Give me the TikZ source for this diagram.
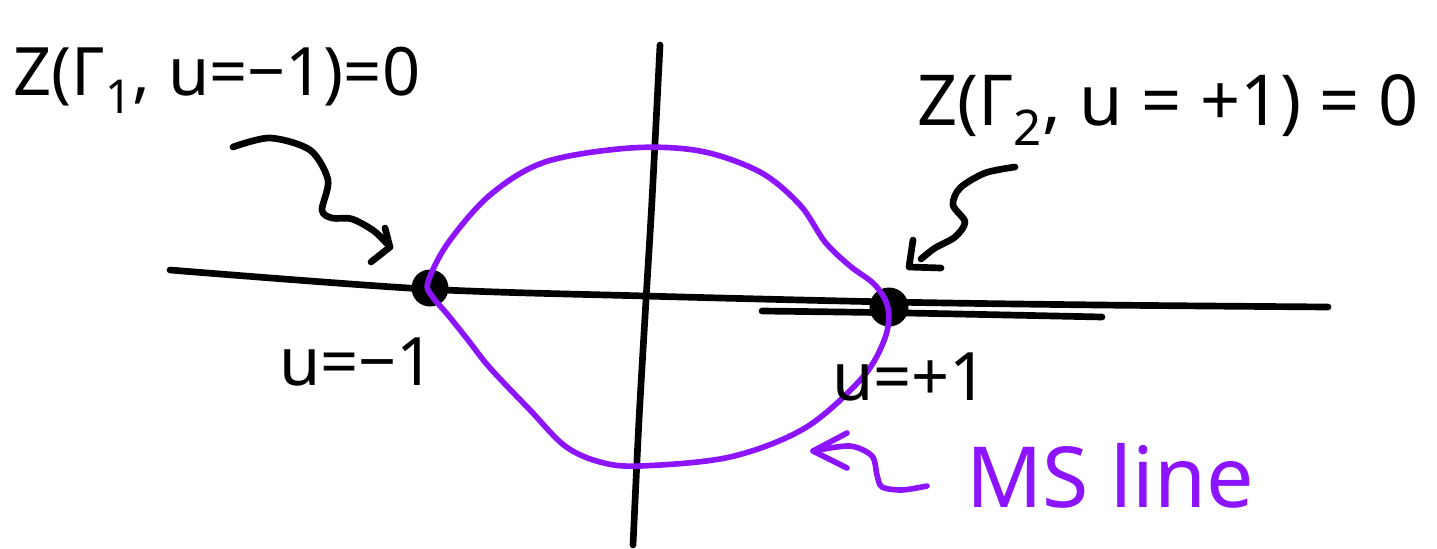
\documentclass[tikz,border=0pt]{standalone}
\usepackage{fontspec}
\setmainfont{Noto Sans}
\usetikzlibrary{arrows.meta}
\definecolor{msviolet}{RGB}{140,20,255}
\tikzset{
  ink/.style={line width=3.8pt, line cap=round, line join=round, black},
  msink/.style={line width=3.2pt, line cap=round, line join=round, msviolet},
  lbl/.style={font=\fontsize{38}{44}\selectfont, inner sep=0pt},
  dotnode/.style={circle, fill=black, minimum size=0.74cm, inner sep=0pt}
}
\begin{document}
\begin{tikzpicture}[x=0.02cm,y=-0.02cm]
\useasboundingbox (0,0) rectangle (1437,548);
% axes
\draw[ink] plot[smooth] coordinates {(170,270) (425,289) (645,296) (890,302) (1100,305) (1328,307)};
\draw[ink] plot[smooth] coordinates {(762,311) (907,313) (1102,317)};
\draw[ink] plot[smooth] coordinates {(660,45) (652,200) (646,300) (639,420) (633,545)};
% dots
\node[dotnode] (d1) at (430,288) {};
\node[dotnode, minimum size=0.78cm] (d2) at (889,307) {};
% MS line
\draw[msink] plot[smooth cycle, tension=0.55] coordinates {
  (428,282) (448,243) (490,195) (545,162) (630,148) (700,151) (760,172)
  (800,205) (825,242) (850,266) (875,285) (888,308) (885,338) (862,378)
  (805,428) (730,457) (640,466) (600,462) (565,446) (530,410) (490,368)
  (468,340) (448,315) (432,296)};
% labels
\node[lbl] (z1) at (217,80) {Z(Γ\textsubscript{1}, u=−1)=0};
\node[lbl, font=\fontsize{40}{46}\selectfont] (z2) at (1168,110) {Z(Γ\textsubscript{2}, u = +1) = 0};
\node[lbl] (um) at (357,362) {u=−1};
\node[lbl] (up) at (910,377) {u=+1};
\node[lbl, text=msviolet, font=\fontsize{48}{54}\selectfont] (ms) at (1110,476) {MS line};
% arrows
\coordinate (a1s) at (233,147);
\coordinate (a1e) at (390,247);
\draw[ink] plot[smooth] coordinates {(a1s) (270,138) (310,150) (328,180) (322,210) (332,218) (352,219) (374,231) (a1e)};
\draw[ink] (385,228) -- (a1e) -- (371,262);
\coordinate (a2s) at (1015,167);
\coordinate (a2e) at (909,267);
\draw[ink] plot[smooth] coordinates {(a2s) (985,173) (960,188) (953,205) (965,222) (955,237) (935,248) (921,259)};
\draw[ink] (913,240) -- (a2e) -- (941,268);
\coordinate (a3e) at (813,451);
\draw[msink] plot[smooth] coordinates {(a3e) (850,446) (872,456) (877,475) (882,487) (902,490) (927,486)};
\draw[msink] (847,433) -- (a3e) -- (847,468);
\end{tikzpicture}
\end{document}
